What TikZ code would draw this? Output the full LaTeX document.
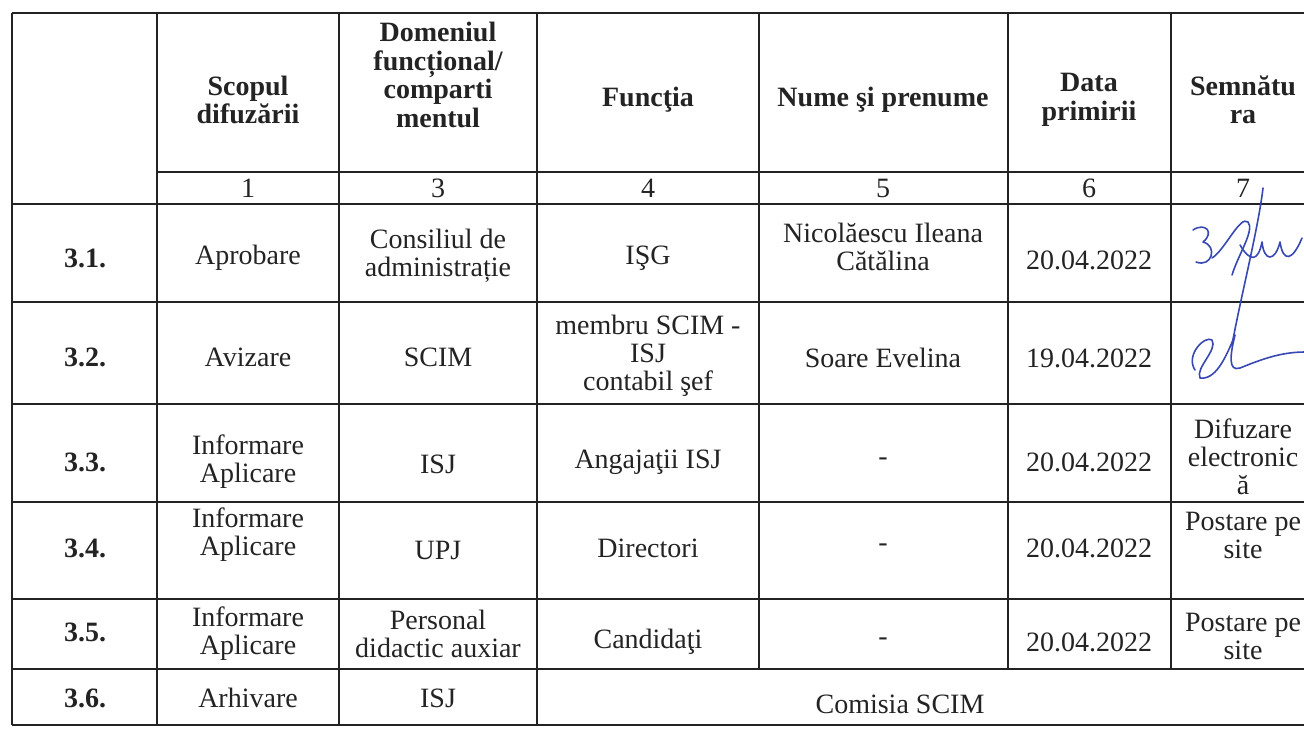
\documentclass[tikz,border=0pt]{standalone}
\usepackage{fontspec}
\setmainfont{Liberation Serif}
\usetikzlibrary{positioning}
\definecolor{ink}{RGB}{35,35,35}
\definecolor{pen}{RGB}{55,72,178}

\begin{document}
\begin{tikzpicture}[x=0.5pt, y=-0.5pt,
    cell/.style={align=center, inner sep=0pt, text=ink, font=\fontsize{14}{14}\selectfont},
    head/.style={cell, font=\fontsize{14}{14.2}\selectfont\bfseries},
    rule/.style={draw=ink, line width=0.9pt},
    sig/.style={draw=pen, line width=0.8pt, line cap=round, line join=round}]
	\useasboundingbox (0,0) rectangle (1304,728);
	\clip (0,0) rectangle (1304,728);

	% liniile tabelului
	\foreach \y in {13,204,302,404,502,599,669,725}
		\draw[rule] (12,\y) -- (1315,\y);
	\draw[rule] (157,172) -- (1315,172);
	\foreach \x in {12,157,339,537}
		\draw[rule] (\x,13) -- (\x,725);
	\foreach \x in {759,1008,1171}
		\draw[rule] (\x,13) -- (\x,669);

	% antet
	\node[head] (hScop) at (248,100) {Scopul\\difuzării};
	\node[head] (hDom) at (438,75) {Domeniul\\funcțional/\\comparti\\mentul};
	\node[head] (hFunc) at (648,100) {Funcţia};
	\node[head] (hNume) at (883,100) {Nume şi prenume};
	\node[head] (hData) at (1089,100) {Data\\primirii};
	\node[head] (hSemn) at (1243,100) {Semnătu\\ra};

	% numerotare coloane
	\node[cell] (k1) at (248,188) {1};
	\node[cell] (k3) at (438,188) {3};
	\node[cell] (k4) at (648,188) {4};
	\node[cell] (k5) at (883,188) {5};
	\node[cell] (k6) at (1089,188) {6};
	\node[cell] (k7) at (1243,188) {7};

	% 3.1.
	\node[head] (r1c0) at (85,258) {3.1.};
	\node[cell] (r1c1) at (248,258) {Aprobare};
	\node[cell] (r1c2) at (438,256) {Consiliul de\\administrație};
	\node[cell] (r1c3) at (648,258) {IŞG};
	\node[cell] (r1c4) at (883,247) {Nicolăescu Ileana\\Cătălina};
	\node[cell] (r1c5) at (1089,260) {20.04.2022};

	% 3.2.
	\node[head] (r2c0) at (85,357) {3.2.};
	\node[cell] (r2c1) at (248,357) {Avizare};
	\node[cell] (r2c2) at (438,357) {SCIM};
	\node[cell] (r2c3) at (648,356) {membru SCIM -\\ISJ\\contabil şef};
	\node[cell] (r2c4) at (883,358) {Soare Evelina};
	\node[cell] (r2c5) at (1089,358) {19.04.2022};

	% 3.3.
	\node[head] (r3c0) at (85,462) {3.3.};
	\node[cell] (r3c1) at (248,462) {Informare\\Aplicare};
	\node[cell] (r3c2) at (438,464) {ISJ};
	\node[cell] (r3c3) at (648,462) {Angajaţii ISJ};
	\node[cell] (r3c4) at (883,462) {-};
	\node[cell] (r3c5) at (1089,462) {20.04.2022};
	\node[cell] (r3c6) at (1243,457) {Difuzare\\electronic\\ă};

	% 3.4.
	\node[head] (r4c0) at (85,548) {3.4.};
	\node[cell] (r4c1) at (248,535) {Informare\\Aplicare};
	\node[cell] (r4c2) at (438,550) {UPJ};
	\node[cell] (r4c3) at (648,548) {Directori};
	\node[cell] (r4c4) at (883,548) {-};
	\node[cell] (r4c5) at (1089,548) {20.04.2022};
	\node[cell] (r4c6) at (1243,535) {Postare pe\\site};

	% 3.5.
	\node[head] (r5c0) at (85,632) {3.5.};
	\node[cell] (r5c1) at (248,634) {Informare\\Aplicare};
	\node[cell] (r5c2) at (438,634) {Personal\\didactic auxiar};
	\node[cell] (r5c3) at (648,642) {Candidaţi};
	\node[cell] (r5c4) at (883,642) {-};
	\node[cell] (r5c5) at (1089,642) {20.04.2022};
	\node[cell] (r5c6) at (1243,636) {Postare pe\\site};

	% 3.6.
	\node[head] (r6c0) at (85,698) {3.6.};
	\node[cell] (r6c1) at (248,698) {Arhivare};
	\node[cell] (r6c2) at (438,698) {ISJ};
	\node[cell] (r6c3) at (900,704) {Comisia SCIM};

	% semnături
	\draw[sig] (1263,188) .. controls (1258,230) and (1240,300) .. (1232,345);
	\draw[sig] (1193,230) .. controls (1205,222) and (1215,232) .. (1203,242) .. controls (1218,246) and (1212,268) .. (1196,262);
	\draw[sig] (1212,258) .. controls (1225,250) and (1240,215) .. (1248,222) .. controls (1255,230) and (1238,255) .. (1232,275);
	\draw[sig] (1240,245) .. controls (1250,262) and (1258,262) .. (1262,242) .. controls (1264,262) and (1275,262) .. (1280,242) .. controls (1283,262) and (1292,262) .. (1302,238);
	\draw[sig] (1195,370) .. controls (1185,355) and (1205,335) .. (1212,340) .. controls (1218,350) and (1195,368) .. (1200,378) .. controls (1215,380) and (1225,360) .. (1235,335) .. controls (1230,355) and (1228,372) .. (1240,368) .. controls (1260,360) and (1280,352) .. (1305,352);
\end{tikzpicture}
\end{document}
